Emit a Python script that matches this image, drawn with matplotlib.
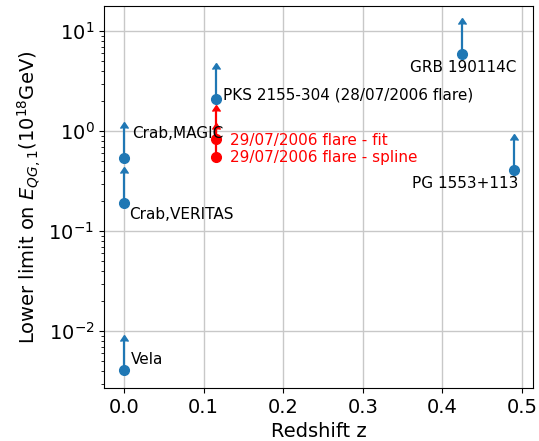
import matplotlib
matplotlib.use("Agg")
import matplotlib.pyplot as plt
import numpy as np

# Blue sources
names = ["Vela", "Crab,VERITAS", "Crab,MAGIC", "PKS 2155-304 (28/07/2006 flare)", "GRB 190114C", "PG 1553+113"]
z = [0.0, 0.0, 0.0, 0.116, 0.425, 0.49]
eqg = [0.0041, 0.19, 0.54, 2.1, 5.9, 0.41]
arrow_top = [0.0080, 0.38, 1.08, 4.2, 11.8, 0.82]

# Red points (29/07/2006 flare)
red_names = ["29/07/2006 flare - fit", "29/07/2006 flare - spline"]
red_z = [0.116, 0.116]
red_eqg = [0.83, 0.55]
red_top = [1.6, 1.05]

fig = plt.figure(figsize=(5.39, 4.41), dpi=100)
ax = fig.add_axes([0.193, 0.120, 0.796, 0.866])

err = np.array(arrow_top) - np.array(eqg)
ax.errorbar(z, eqg, yerr=err, lolims=True, fmt='o', color='#1f77b4',
            markersize=7, elinewidth=1.6, capsize=3)
rerr = np.array(red_top) - np.array(red_eqg)
ax.errorbar(red_z, red_eqg, yerr=rerr, lolims=True, fmt='o', color='red',
            markersize=7, elinewidth=1.6, capsize=3)

ax.set_yscale('log')
ax.set_xlim(-0.025, 0.514)
ax.set_ylim(0.0027, 17.8)
ax.grid(True, which='major', color='#c8c8c8', linewidth=1)
ax.set_axisbelow(True)

fs = 11
ax.text(0.009, 0.0052, names[0], fontsize=fs, ha='left', va='center')
ax.text(0.006, 0.148, names[1], fontsize=fs, ha='left', va='center')
ax.text(0.010, 0.95, names[2], fontsize=fs, ha='left', va='center')
ax.text(0.124, 2.3, names[3], fontsize=fs, ha='left', va='center')
ax.text(0.426, 4.3, names[4], fontsize=fs, ha='center', va='center')
ax.text(0.495, 0.30, names[5], fontsize=fs, ha='right', va='center')
ax.text(0.133, 0.81, red_names[0], fontsize=fs, ha='left', va='center', color='red')
ax.text(0.133, 0.54, red_names[1], fontsize=fs, ha='left', va='center', color='red')

ax.tick_params(axis='both', which='major', labelsize=14)
ax.set_xticks([0.0, 0.1, 0.2, 0.3, 0.4, 0.5])
ax.set_xlabel("Redshift z", fontsize=14)
ax.set_ylabel(r"Lower limit on $E_{QG,1}(10^{18}$GeV)", fontsize=14)

fig.savefig("out.png", dpi=100)
